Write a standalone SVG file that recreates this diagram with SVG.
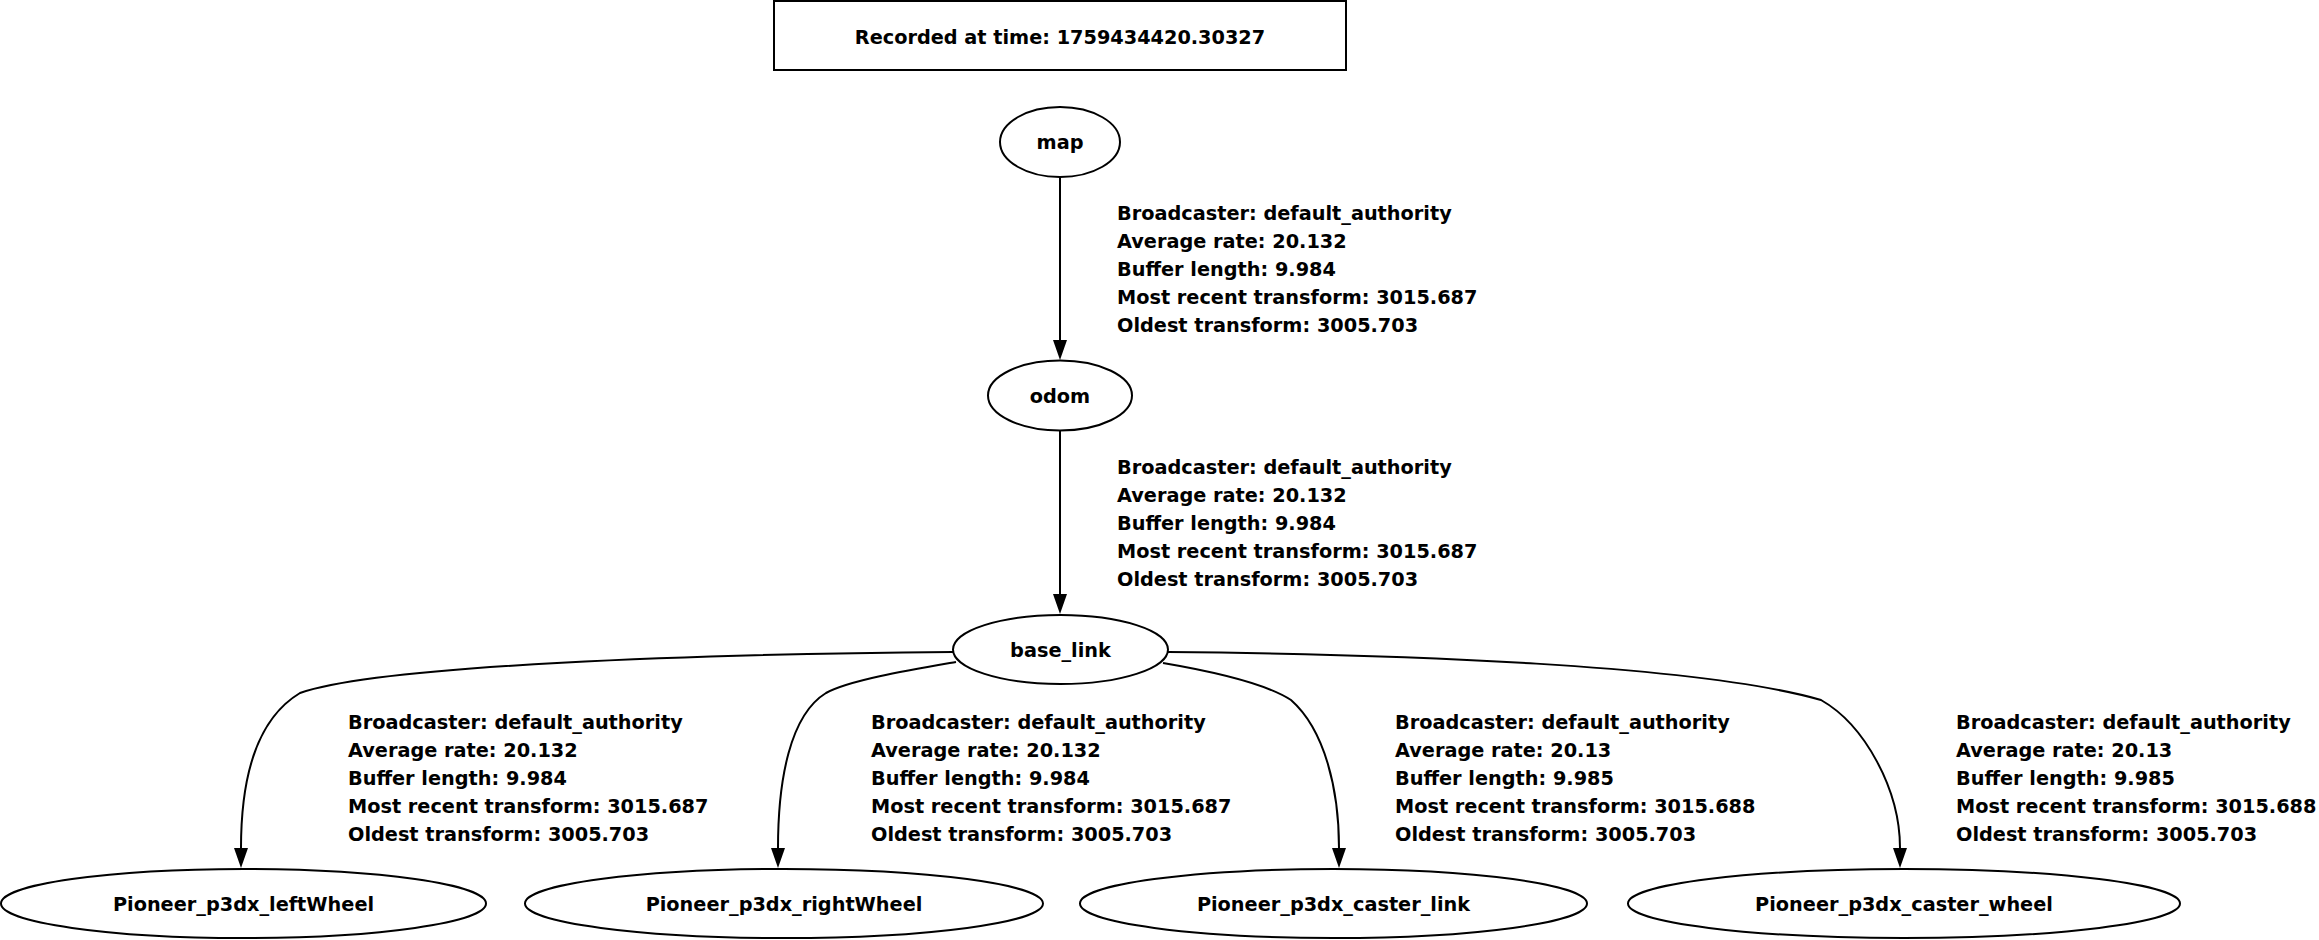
<svg xmlns="http://www.w3.org/2000/svg" width="2319" height="940" viewBox="0 0 2319 940">
<style>
text{font-family:"DejaVu Sans","Liberation Sans",sans-serif;font-weight:bold;font-size:19.3px;fill:#000}
.c{text-anchor:middle}
.n{fill:#fff;stroke:#000;stroke-width:2}
.e{fill:none;stroke:#000;stroke-width:2;marker-end:url(#ah)}
</style>
<defs>
<marker id="ah" viewBox="0 0 20 14" refX="0" refY="7" markerWidth="20" markerHeight="14" markerUnits="userSpaceOnUse" orient="auto">
<path d="M0,0 L20,7 L0,14 z" fill="#000"/>
</marker>
</defs>
<rect width="2319" height="940" fill="#fff"/>
<g id="title"><rect class="n" x="774" y="1" width="572" height="69"/><text class="c" x="1060" y="44">Recorded at time: 1759434420.30327</text></g>
<g id="connectors">
<path class="e" d="M1060,177 L1060,340"/>
<path class="e" d="M1060,431 L1060,594"/>
<path class="e" d="M953,652 C700,654 380,665 300,693 C255,720 241,780 241,848"/>
<path class="e" d="M956,662 C910,670 850,680 826,693 C790,715 778,780 778,848"/>
<path class="e" d="M1163,663 C1210,671 1265,683 1291,700 C1325,730 1339,790 1339,848"/>
<path class="e" d="M1168,652 C1400,654 1700,665 1821,700 C1865,725 1900,790 1900,848"/>
</g>
<g id="edge-labels">
<text x="1117" y="220"><tspan x="1117">Broadcaster: default_authority</tspan><tspan x="1117" dy="28">Average rate: 20.132</tspan><tspan x="1117" dy="28">Buffer length: 9.984</tspan><tspan x="1117" dy="28">Most recent transform: 3015.687</tspan><tspan x="1117" dy="28">Oldest transform: 3005.703</tspan></text>
<text x="1117" y="474"><tspan x="1117">Broadcaster: default_authority</tspan><tspan x="1117" dy="28">Average rate: 20.132</tspan><tspan x="1117" dy="28">Buffer length: 9.984</tspan><tspan x="1117" dy="28">Most recent transform: 3015.687</tspan><tspan x="1117" dy="28">Oldest transform: 3005.703</tspan></text>
<text x="348" y="729"><tspan x="348">Broadcaster: default_authority</tspan><tspan x="348" dy="28">Average rate: 20.132</tspan><tspan x="348" dy="28">Buffer length: 9.984</tspan><tspan x="348" dy="28">Most recent transform: 3015.687</tspan><tspan x="348" dy="28">Oldest transform: 3005.703</tspan></text>
<text x="871" y="729"><tspan x="871">Broadcaster: default_authority</tspan><tspan x="871" dy="28">Average rate: 20.132</tspan><tspan x="871" dy="28">Buffer length: 9.984</tspan><tspan x="871" dy="28">Most recent transform: 3015.687</tspan><tspan x="871" dy="28">Oldest transform: 3005.703</tspan></text>
<text x="1395" y="729"><tspan x="1395">Broadcaster: default_authority</tspan><tspan x="1395" dy="28">Average rate: 20.13</tspan><tspan x="1395" dy="28">Buffer length: 9.985</tspan><tspan x="1395" dy="28">Most recent transform: 3015.688</tspan><tspan x="1395" dy="28">Oldest transform: 3005.703</tspan></text>
<text x="1956" y="729"><tspan x="1956">Broadcaster: default_authority</tspan><tspan x="1956" dy="28">Average rate: 20.13</tspan><tspan x="1956" dy="28">Buffer length: 9.985</tspan><tspan x="1956" dy="28">Most recent transform: 3015.688</tspan><tspan x="1956" dy="28">Oldest transform: 3005.703</tspan></text>
</g>
<g id="map"><ellipse class="n" cx="1060" cy="142" rx="60" ry="35"/><text class="c" x="1060" y="149">map</text></g>
<g id="odom"><ellipse class="n" cx="1060" cy="395.5" rx="72" ry="35"/><text class="c" x="1060" y="402.5">odom</text></g>
<g id="base_link"><ellipse class="n" cx="1060.5" cy="649.5" rx="107.5" ry="34.5"/><text class="c" x="1060.5" y="656.5">base_link</text></g>
<g id="Pioneer_p3dx_leftWheel"><ellipse class="n" cx="243.5" cy="903.5" rx="242.5" ry="34.5"/><text class="c" x="243.5" y="910.5">Pioneer_p3dx_leftWheel</text></g>
<g id="Pioneer_p3dx_rightWheel"><ellipse class="n" cx="784" cy="903.5" rx="259" ry="34.5"/><text class="c" x="784" y="910.5">Pioneer_p3dx_rightWheel</text></g>
<g id="Pioneer_p3dx_caster_link"><ellipse class="n" cx="1333.5" cy="903.5" rx="253.5" ry="34.5"/><text class="c" x="1333.5" y="910.5">Pioneer_p3dx_caster_link</text></g>
<g id="Pioneer_p3dx_caster_wheel"><ellipse class="n" cx="1904" cy="903.5" rx="276" ry="34.5"/><text class="c" x="1904" y="910.5">Pioneer_p3dx_caster_wheel</text></g>
</svg>
